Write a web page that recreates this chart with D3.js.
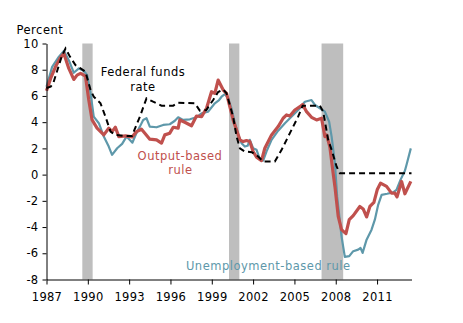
<!DOCTYPE html>
<html><head><meta charset="utf-8">
<script src="https://cdn.jsdelivr.net/npm/d3@7"></script>
<style>
html,body{margin:0;padding:0;background:#fff;}
svg text{font-family:"DejaVu Sans",Verdana,sans-serif;}
</style></head>
<body><svg id="c" width="463" height="323"></svg>
<script>
const fedFunds = [[1987.0,6.6],[1987.3,6.7],[1987.5,7.0],[1987.8,8.0],[1988.1,9.0],[1988.38,9.62],[1988.7,9.0],[1989.1,8.35],[1989.47,8.1],[1989.83,7.84],[1990.2,6.45],[1990.43,5.94],[1990.92,5.44],[1991.28,4.42],[1991.65,3.28],[1992.0,3.03],[1992.6,2.95],[1993.2,2.95],[1993.78,4.42],[1994.26,5.82],[1994.74,5.56],[1995.35,5.26],[1996.2,5.26],[1996.56,5.48],[1997.77,5.44],[1998.13,4.88],[1998.6,4.93],[1999.1,5.69],[1999.46,6.3],[1999.83,6.5],[2000.07,6.2],[2000.55,4.42],[2000.8,2.9],[2001.04,2.01],[2001.4,1.76],[2001.9,1.71],[2002.37,1.38],[2002.73,1.0],[2003.58,1.0],[2004.07,1.89],[2004.67,3.16],[2005.27,4.42],[2005.6,5.26],[2006.85,5.26],[2007.09,4.8],[2007.45,2.65],[2007.7,1.89],[2008.06,0.62],[2008.3,0.11],[2013.5,0.11]];

const outputRule = [[1987.0,6.4],[1987.3,7.34],[1987.65,8.22],[1988.0,8.9],[1988.26,9.24],[1988.62,8.1],[1988.98,7.26],[1989.22,7.59],[1989.47,7.72],[1989.83,7.51],[1990.07,5.69],[1990.31,4.17],[1990.67,3.54],[1991.16,3.03],[1991.52,3.54],[1991.76,3.28],[1992.0,3.61],[1992.25,2.9],[1992.74,2.95],[1993.22,2.88],[1993.54,3.28],[1993.9,3.46],[1994.14,3.16],[1994.5,2.7],[1994.99,2.65],[1995.35,2.4],[1995.59,3.03],[1995.95,3.16],[1996.2,3.61],[1996.56,3.54],[1996.68,4.17],[1997.04,3.99],[1997.53,3.73],[1997.89,4.47],[1998.26,4.42],[1998.62,5.06],[1998.98,6.32],[1999.22,6.2],[1999.46,7.21],[1999.83,6.45],[2000.07,6.2],[2000.31,5.18],[2000.55,4.17],[2000.8,3.41],[2001.04,2.65],[2001.28,2.52],[2001.52,2.6],[2001.76,2.52],[2002.0,1.76],[2002.25,1.33],[2002.61,1.07],[2002.85,2.01],[2003.34,3.03],[2003.82,3.66],[2004.18,4.3],[2004.43,4.55],[2004.67,4.47],[2005.03,4.93],[2005.4,5.18],[2005.6,5.35],[2005.88,4.8],[2006.24,4.37],[2006.61,4.17],[2006.97,4.3],[2007.21,2.9],[2007.33,3.03],[2007.57,2.14],[2007.81,0.11],[2007.94,-0.9],[2008.18,-3.19],[2008.42,-4.2],[2008.74,-4.5],[2008.98,-3.44],[2009.27,-3.13],[2009.75,-2.43],[2009.99,-2.62],[2010.24,-3.23],[2010.48,-2.43],[2010.77,-2.12],[2011.01,-1.16],[2011.25,-0.65],[2011.69,-0.9],[2012.05,-1.41],[2012.29,-1.41],[2012.45,-1.7],[2012.78,-0.52],[2013.02,-1.46],[2013.45,-0.52]];

const unemploymentRule = [[1987.0,6.7],[1987.41,8.22],[1987.89,8.98],[1988.26,9.44],[1988.62,8.73],[1988.98,7.77],[1989.35,8.1],[1989.71,7.92],[1989.95,7.59],[1990.2,6.2],[1990.43,4.42],[1990.8,3.92],[1991.16,2.9],[1991.52,2.14],[1991.76,1.51],[1992.13,2.01],[1992.49,2.34],[1992.81,2.9],[1993.0,2.7],[1993.24,2.44],[1993.5,3.1],[1993.78,3.66],[1994.02,4.17],[1994.26,4.3],[1994.5,3.66],[1994.99,3.61],[1995.47,3.79],[1995.95,3.84],[1996.32,4.11],[1996.56,4.37],[1996.92,4.17],[1997.41,4.22],[1997.89,4.37],[1998.26,4.68],[1998.74,4.8],[1999.22,5.44],[1999.53,5.69],[1999.71,5.94],[1999.95,6.14],[2000.19,5.82],[2000.43,5.06],[2000.68,3.92],[2000.92,3.03],[2001.16,2.4],[2001.4,2.14],[2001.6,2.2],[2001.76,2.65],[2002.0,2.01],[2002.25,1.89],[2002.49,1.18],[2002.73,1.07],[2002.97,1.76],[2003.34,2.65],[2003.82,3.35],[2004.31,3.92],[2004.91,4.55],[2005.4,5.06],[2005.76,5.56],[2006.24,5.69],[2006.49,5.31],[2006.85,5.06],[2007.21,4.8],[2007.52,4.04],[2007.7,2.9],[2007.94,0.87],[2008.1,-1.66],[2008.42,-4.71],[2008.66,-6.27],[2008.98,-6.22],[2009.27,-5.84],[2009.63,-5.72],[2009.8,-5.6],[2009.95,-5.97],[2010.24,-4.96],[2010.6,-4.2],[2010.84,-3.44],[2011.08,-2.3],[2011.33,-1.54],[2011.73,-1.46],[2012.17,-1.36],[2012.41,-1.16],[2012.7,-0.4],[2013.02,0.3],[2013.14,0.75],[2013.45,2.0]];

const recessions = [[1989.6,1990.35],[2000.25,2001.0],[2006.97,2008.54]];
const xTicks = [1987,1990,1993,1996,1999,2002,2005,2008,2011];
const yTicks = [-8,-6,-4,-2,0,2,4,6,8,10];

const svg = d3.select("#c");
const FS = "11.5px";
const LS = "0.5px";
const x = d3.scaleLinear().domain([1987, 2013.5]).range([46.5, 411.5]);
const y = d3.scaleLinear().domain([-8, 10]).range([279.5, 43.5]);

svg.append("g").selectAll("rect").data(recessions).join("rect")
  .attr("x", d => x(d[0])).attr("width", d => x(d[1]) - x(d[0]))
  .attr("y", y(10)).attr("height", y(-8) - y(10))
  .attr("fill", "#bebebe");

const line = d3.line().x(d => x(d[0])).y(d => y(d[1]));

svg.append("path").datum(unemploymentRule).attr("d", line)
  .attr("fill","none").attr("stroke","#5e98aa").attr("stroke-width",2.2).attr("stroke-linejoin","round");
svg.append("path").datum(outputRule).attr("d", line)
  .attr("fill","none").attr("stroke","#c0504d").attr("stroke-width",3.2).attr("stroke-linejoin","round");
svg.append("path").datum(fedFunds).attr("d", line)
  .attr("fill","none").attr("stroke","#000").attr("stroke-width",2).attr("stroke-dasharray","6,4");

const xa = svg.append("g").attr("transform", `translate(0,${y(-8)})`)
  .call(d3.axisBottom(x).tickValues(xTicks).tickFormat(d3.format("d")).tickSize(5).tickPadding(8).tickSizeOuter(0));
const ya = svg.append("g").attr("transform", `translate(${x(1987)},0)`)
  .call(d3.axisLeft(y).tickValues(yTicks).tickFormat(d => d < 0 ? "-" + Math.abs(d) : d).tickSize(4).tickPadding(4).tickSizeOuter(0));
[xa, ya].forEach(a => {
  a.selectAll("text").attr("font-size", FS).attr("letter-spacing", "0.3px")
    .attr("font-family", '"DejaVu Sans",Verdana,sans-serif').attr("fill", "#000");
  a.select(".domain").attr("stroke", "#000");
  a.selectAll(".tick line").attr("stroke", "#000");
});

function label(t, cx, by, col, anchor) {
  svg.append("text").attr("x", cx).attr("y", by).attr("text-anchor", anchor || "middle")
    .attr("font-size", FS).attr("letter-spacing", LS).attr("fill", col).text(t);
}
label("Percent", 16.5, 34, "#000", "start");
label("Federal funds", 143, 75.5, "#000");
label("rate", 143, 90.5, "#000");
label("Output-based", 180, 160, "#c0504d");
label("rule", 180.5, 174.3, "#c0504d");
label("Unemployment-based rule", 268.3, 270.3, "#5e98aa");
</script></body></html>
